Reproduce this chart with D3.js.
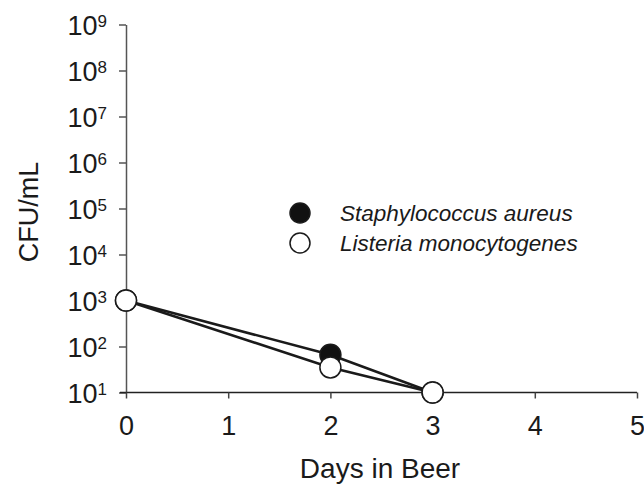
<!DOCTYPE html>
<html><head><meta charset="utf-8">
<script src="https://cdn.jsdelivr.net/npm/d3@7"></script>
<style>body{margin:0;background:#fff;} text{font-family:"Liberation Sans",Arial,sans-serif;fill:#1a1a1a;}</style>
</head><body>
<svg id="c" width="644" height="500"></svg>
<script>
const days = [0, 2, 3];
const staphValues = [1000, 66, 10];
const listeriaValues = [1000, 35, 10];
const seriesNames = ["Staphylococcus aureus", "Listeria monocytogenes"];
const xTicks = [0, 1, 2, 3, 4, 5];
const yExponents = [1, 2, 3, 4, 5, 6, 7, 8, 9];

const svg = d3.select("#c");
const x = d3.scaleLinear().domain([0, 5]).range([126, 637]);
const y = d3.scaleLog().domain([10, 1e9]).range([392.5, 24.5]);

// y axis
const yAxis = svg.append("g").attr("transform", "translate(126,0)")
  .call(d3.axisLeft(y).tickValues(yExponents.map(e => Math.pow(10, e))).tickSize(7).tickSizeOuter(0).tickFormat(""));
yAxis.select(".domain").attr("stroke", "#555").attr("stroke-width", 1.5);
yAxis.selectAll(".tick line").attr("stroke", "#555").attr("stroke-width", 1.5);
yAxis.selectAll(".tick").each(function(d) {
  const t = d3.select(this).append("text").attr("x", -19).attr("y", 0).attr("dy", "0.36em")
    .attr("text-anchor", "end").attr("fill", "#1a1a1a").style("font-size", "27px");
  t.append("tspan").text("10");
  t.append("tspan").text(Math.round(Math.log10(d))).attr("dy", "-0.45em").style("font-size", "17px");
});

// x axis
const xAxis = svg.append("g").attr("transform", "translate(0,392.5)")
  .call(d3.axisBottom(x).tickValues(xTicks).tickSize(6).tickSizeOuter(0).tickFormat(d3.format("d")).tickPadding(17));
xAxis.select(".domain").attr("stroke", "#222").attr("stroke-width", 1.5).attr("d", "M120,0H637");
xAxis.selectAll(".tick line").attr("stroke", "#444").attr("stroke-width", 1.5);
xAxis.selectAll(".tick text").attr("fill", "#1a1a1a").style("font-size", "27px");

// axis titles
svg.append("text").attr("x", 380).attr("y", 478).attr("text-anchor", "middle").style("font-size", "28px").text("Days in Beer");
svg.append("text").attr("transform", "translate(38,212) rotate(-90)").attr("text-anchor", "middle").style("font-size", "27px").text("CFU/mL");

const line = d3.line().x((d, i) => x(days[i])).y(d => y(d));
const series = [
  {name: seriesNames[0], values: staphValues, fill: "#111"},
  {name: seriesNames[1], values: listeriaValues, fill: "#fff"}
];
series.forEach(s => {
  svg.append("path").attr("d", line(s.values)).attr("fill", "none").attr("stroke", "#1a1a1a").attr("stroke-width", 2.6);
});
series.forEach(s => {
  svg.selectAll(null).data(s.values).enter().append("circle")
    .attr("cx", (d, i) => x(days[i])).attr("cy", d => y(d)).attr("r", 10.5)
    .attr("fill", s.fill).attr("stroke", "#1a1a1a").attr("stroke-width", 1.5);
});

// legend
series.forEach((s, i) => {
  const ly = 213 + i * 30;
  svg.append("circle").attr("cx", 300).attr("cy", ly).attr("r", 10).attr("fill", s.fill).attr("stroke", "#1a1a1a").attr("stroke-width", 1.5);
  svg.append("text").attr("x", 340).attr("y", ly).attr("dy", "0.35em").style("font-size", "22.5px").style("font-style", "italic").text(s.name);
});
</script>
</body></html>
